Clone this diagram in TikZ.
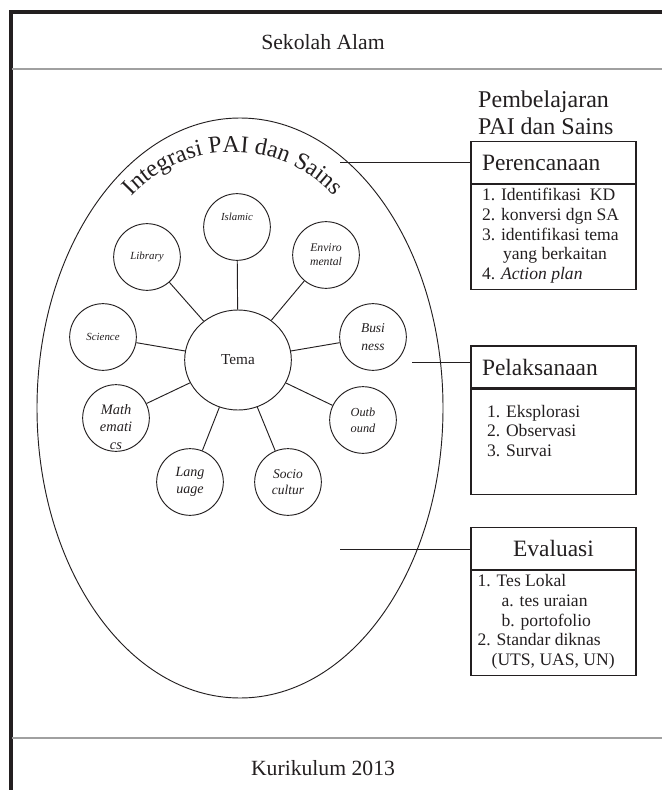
\documentclass[tikz,border=0pt]{standalone}
\usepackage{fontspec}
\setmainfont{Liberation Serif}
\usetikzlibrary{positioning,shapes.geometric,decorations.text}
\definecolor{ink}{HTML}{231F20}
\definecolor{rulegray}{HTML}{A0A0A0}
\newcommand{\boxtext}[2]{\parbox[c][2.91cm][t]{4.55cm}{\leftskip=#1\relax #2}}
\tikzset{
  bubble/.style 2 args={draw=ink, line width=0.8pt, circle, minimum size=2cm, inner sep=0pt, align=center, text=ink, font=\fontsize{#1}{#2}\selectfont\itshape},
  head/.style={draw=ink, line width=0.9pt, minimum width=4.95cm, minimum height=1.26cm, inner xsep=0.33cm, text width=4.29cm, text=ink, font=\fontsize{20}{22}\selectfont},
  body/.style={draw=ink, line width=0.9pt, inner xsep=0.2cm, inner ysep=0.12cm, below=0pt of #1, text=ink, font=\fontsize{15}{16.8}\selectfont},
  link/.style={draw=ink, line width=0.8pt},
}
\begin{document}
\begin{tikzpicture}[x=0.03cm, y=-0.03cm]
\useasboundingbox (0,0) rectangle (662,790);
\draw[ink, line width=2.6pt] (662,12) -- (11,12) -- (11,790);
\draw[rulegray, line width=1.7pt] (12,69) -- (662,69);
\draw[rulegray, line width=1.7pt] (12,738) -- (662,738);
\node[text=ink, font=\fontsize{18.5}{22}\selectfont] (sekolah) at (323,42) {Sekolah Alam};
\node[text=ink, font=\fontsize{18.5}{22}\selectfont] (kurikulum) at (323,768) {Kurikulum 2013};
\node[text=ink, font=\fontsize{20.5}{23}\selectfont, align=left, anchor=west, inner sep=0pt] (judul) at (478,113) {Pembelajaran\\PAI dan Sains};

\draw[link] (240,408) ellipse [x radius=203, y radius=290];
\path[decorate, decoration={text along path, text color=ink, text align=center, text={|\fontsize{20.5}{23}\selectfont|Integrasi PAI dan Sains}}] (233,290) ++(200:138) arc[start angle=200, end angle=340, radius=138];

\node[draw=ink, line width=0.8pt, ellipse, minimum width=3.2cm, minimum height=3cm, text=ink, font=\fontsize{13}{15}\selectfont] (tema) at (238,360) {Tema};
\node[bubble={9.2}{11}, label={[text=ink, font=\fontsize{9.2}{11}\selectfont\itshape, yshift=0.3cm]center:Islamic}] (islamic) at (237,227) {};
\node[bubble={9.3}{11}] (library) at (147,257) {Library};
\node[bubble={10}{12}] (enviro) at (326,255) {Enviro\\mental};
\node[bubble={9.3}{11}] (science) at (103,337) {Science};
\node[bubble={11.5}{15}] (business) at (373,337) {Busi\\ness};
\node[bubble={12.3}{15}, label={[text=ink, align=center, font=\fontsize{12.3}{15}\selectfont\itshape, yshift=-0.27cm]center:Math\\emati\\cs}] (math) at (116,418) {};
\node[bubble={10.5}{13.5}] (outbound) at (363,420) {Outb\\ound};
\node[bubble={12}{14.5}] (language) at (190,482) {Lang\\uage};
\node[bubble={11.5}{13}] (socio) at (288,482) {Socio\\cultur};
\foreach \b in {islamic,library,enviro,science,business,math,outbound,language,socio}
  \draw[link] (tema) -- (\b);

\node[head] (perenc) at (553.5,162.5) {Perencanaan};
\node[body=perenc] (perencIsi) {\boxtext{0.13cm}{1. Identifikasi\ \ KD\\2. konversi dgn SA\\3. identifikasi tema\\\hspace*{0.63cm}yang berkaitan\\4. \textit{Action plan}}};
\node[head] (pelak) at (553.5,367) {Pelaksanaan};
\node[body=pelak] (pelakIsi) {\boxtext{0.28cm}{\vspace*{0.36cm}1. Eksplorasi\\2. Observasi\\3. Survai}};
\node[head, align=center] (eval) at (553.5,548.5) {Evaluasi};
\node[body=eval] (evalIsi) {\boxtext{0cm}{1. Tes Lokal\\\hspace*{0.72cm}a. tes uraian\\\hspace*{0.72cm}b. portofolio\\2. Standar diknas\\\hspace*{0.42cm}(UTS, UAS, UN)}};

\coordinate (ujungA) at (340,162);
\coordinate (ujungB) at (412,362);
\coordinate (ujungC) at (340,549);
\draw[link] (ujungA) -- (ujungA -| perenc.west);
\draw[link] (ujungB) -- (ujungB -| pelak.west);
\draw[link] (ujungC) -- (ujungC -| eval.west);
\end{tikzpicture}
\end{document}
